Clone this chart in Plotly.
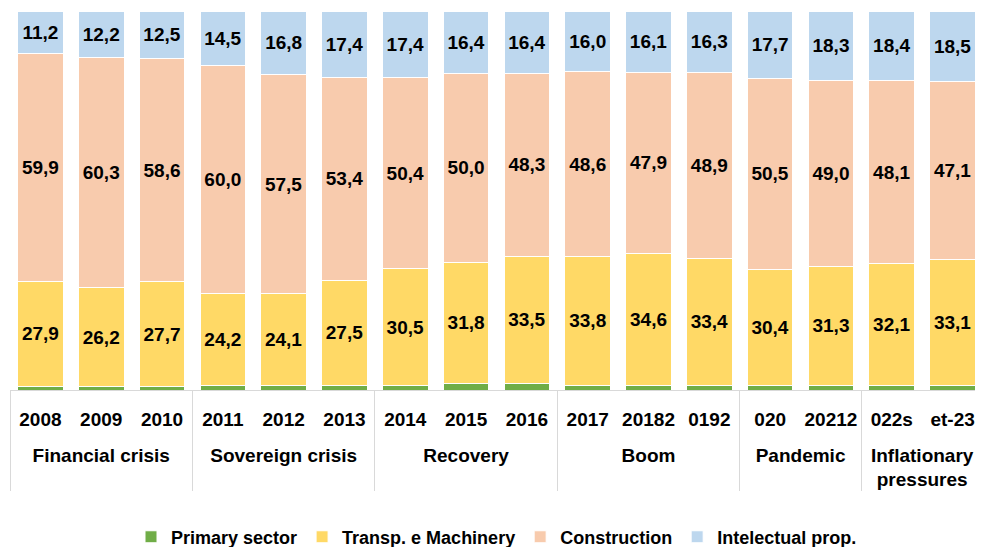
import plotly.graph_objects as go

groups = (["Financial crisis"] * 3 + ["Sovereign crisis"] * 3 + ["Recovery"] * 3
          + ["Boom"] * 3 + ["Pandemic"] * 2 + ["Inflationary<br>pressures"] * 2)
years = ["2008", "2009", "2010", "2011", "2012", "2013", "2014", "2015", "2016",
         "2017", "20182", "0192", "020", "20212", "022s", "et-23"]

primary = [0.8, 0.8, 0.8, 1.3, 1.3, 1.3, 1.3, 1.8, 1.8, 1.3, 1.3, 1.3, 1.3, 1.3, 1.3, 1.3]
transp = [27.9, 26.2, 27.7, 24.2, 24.1, 27.5, 30.5, 31.8, 33.5, 33.8, 34.6, 33.4, 30.4, 31.3, 32.1, 33.1]
construction = [59.9, 60.3, 58.6, 60.0, 57.5, 53.4, 50.4, 50.0, 48.3, 48.6, 47.9, 48.9, 50.5, 49.0, 48.1, 47.1]
intel = [11.2, 12.2, 12.5, 14.5, 16.8, 17.4, 17.4, 16.4, 16.4, 16.0, 16.1, 16.3, 17.7, 18.3, 18.4, 18.5]

series = [
    ("Primary sector", primary, "#70AD47", False),
    ("Transp. e Machinery", transp, "#FFD966", True),
    ("Construction", construction, "#F8CBAD", True),
    ("Intelectual prop.", intel, "#BDD7EE", True),
]

FONT = "Liberation Sans, Arial, sans-serif"

def fmt(v):
    return f"{v:.1f}".replace(".", ",")

# extra blank first line (slightly larger) to push the group row down
group_labels = ["<span style='font-size:26px'> </span><br>" + g for g in groups]

fig = go.Figure()
for name, vals, color, labels in series:
    fig.add_trace(go.Bar(
        x=[group_labels, years],
        y=vals,
        name=name,
        marker=dict(color=color, line=dict(color="white", width=1)),
        text=[fmt(v) for v in vals] if labels else None,
        textposition="inside" if labels else "none",
        insidetextanchor="middle",
        textangle=0,
        constraintext="none",
        textfont=dict(family=FONT, size=19, color="black", weight="bold"),
        hoverinfo="skip",
    ))

# page body has an 8px margin, so the figure is sized to fit the 983x547 window
fig.update_layout(
    barmode="stack",
    barnorm="percent",
    bargap=0.25,
    width=975,
    height=539,
    margin=dict(l=2, r=0, t=3, b=157, autoexpand=False),
    plot_bgcolor="white",
    paper_bgcolor="white",
    font=dict(family=FONT, color="black"),
    legend=dict(
        orientation="h",
        x=0.5, xanchor="center",
        y=-0.388, yanchor="middle",
        font=dict(family=FONT, size=18, color="black", weight="bold"),
        itemwidth=30,
        tracegroupgap=0,
        traceorder="normal",
    ),
    uniformtext=dict(mode=False),
)

fig.update_xaxes(
    type="multicategory",
    automargin=False,
    tickangle=0,
    showline=True,
    linecolor="#D9D9D9",
    linewidth=1,
    showdividers=True,
    dividercolor="#D9D9D9",
    dividerwidth=1,
    ticks="",
    ticklabelstandoff=12,
    tickfont=dict(family=FONT, size=19, color="black", weight="bold"),
    showgrid=False,
)
fig.update_yaxes(visible=False, range=[0, 100], showgrid=False)

fig.write_html("out.html")
